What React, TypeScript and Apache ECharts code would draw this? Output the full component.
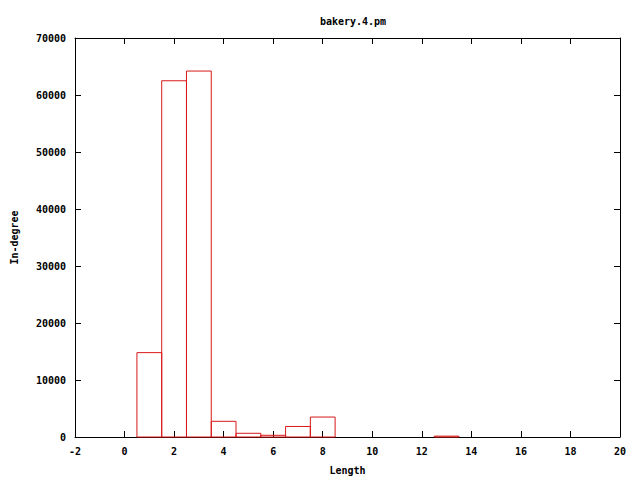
import React, { useEffect, useRef } from "react";
import * as echarts from "echarts";

const title = "bakery.4.pm";
const xName = "Length";
const yName = "In-degree";
const lengths = [1, 2, 3, 4, 5, 6, 7, 8, 9, 10, 11, 12, 13];
const counts = [14800, 62500, 64200, 2750, 650, 300, 1850, 3500, 0, 0, 0, 0, 150];

const FONT = "DejaVu Sans Mono";
const RED = "#d81818";

export default function App() {
  const ref = useRef<HTMLDivElement>(null);
  useEffect(() => {
    const chart = echarts.init(ref.current!, undefined, { renderer: "svg" });
    const axisCommon = {
      axisLine: { show: true, onZero: false, lineStyle: { color: "#000", width: 1 } },
      axisTick: { show: true, inside: true, length: 6, lineStyle: { color: "#000" } },
      splitLine: { show: false },
    };
    const labelStyle = { fontFamily: FONT, fontSize: 10, fontWeight: "bold", color: "#000" };
    chart.setOption({
      animation: false,
      backgroundColor: "#fff",
      title: {
        text: title,
        left: 348,
        top: 11,
        textAlign: "center",
        textStyle: labelStyle,
      },
      grid: { left: 75, right: 20, top: 38, bottom: 40 },
      xAxis: [
        {
          type: "value",
          min: -2,
          max: 20,
          interval: 2,
          position: "bottom",
          name: xName,
          nameLocation: "middle",
          nameGap: 28,
          nameTextStyle: labelStyle,
          axisLabel: { margin: 9, ...labelStyle, formatter: (v: number) => String(v) },
          ...axisCommon,
        },
        {
          type: "value",
          min: -2,
          max: 20,
          interval: 2,
          position: "top",
          axisLabel: { show: false },
          ...axisCommon,
        },
      ],
      yAxis: [
        {
          type: "value",
          min: 0,
          max: 70000,
          interval: 10000,
          position: "left",
          name: yName,
          nameLocation: "middle",
          nameGap: 56,
          nameRotate: 90,
          nameTextStyle: labelStyle,
          axisLabel: { margin: 9, ...labelStyle, formatter: (v: number) => String(v) },
          ...axisCommon,
        },
        {
          type: "value",
          min: 0,
          max: 70000,
          interval: 10000,
          position: "right",
          axisLabel: { show: false },
          ...axisCommon,
        },
      ],
      series: [
        {
          type: "custom",
          xAxisIndex: 0,
          yAxisIndex: 0,
          data: lengths.map((l, i) => [l, counts[i]]),
          renderItem: (params: any, api: any) => {
            const x = api.value(0);
            const v = api.value(1);
            if (!v) return null;
            const p1 = api.coord([x - 0.5, v]);
            const p2 = api.coord([x + 0.5, 0]);
            return {
              type: "rect",
              shape: { x: p1[0], y: p1[1], width: p2[0] - p1[0], height: p2[1] - p1[1] },
              style: { fill: "none", stroke: RED, lineWidth: 1 },
            };
          },
        },
      ],
    });
    return () => chart.dispose();
  }, []);
  return <div ref={ref} style={{ width: 640, height: 480, position: "absolute", left: 0, top: 0 }} />;
}
